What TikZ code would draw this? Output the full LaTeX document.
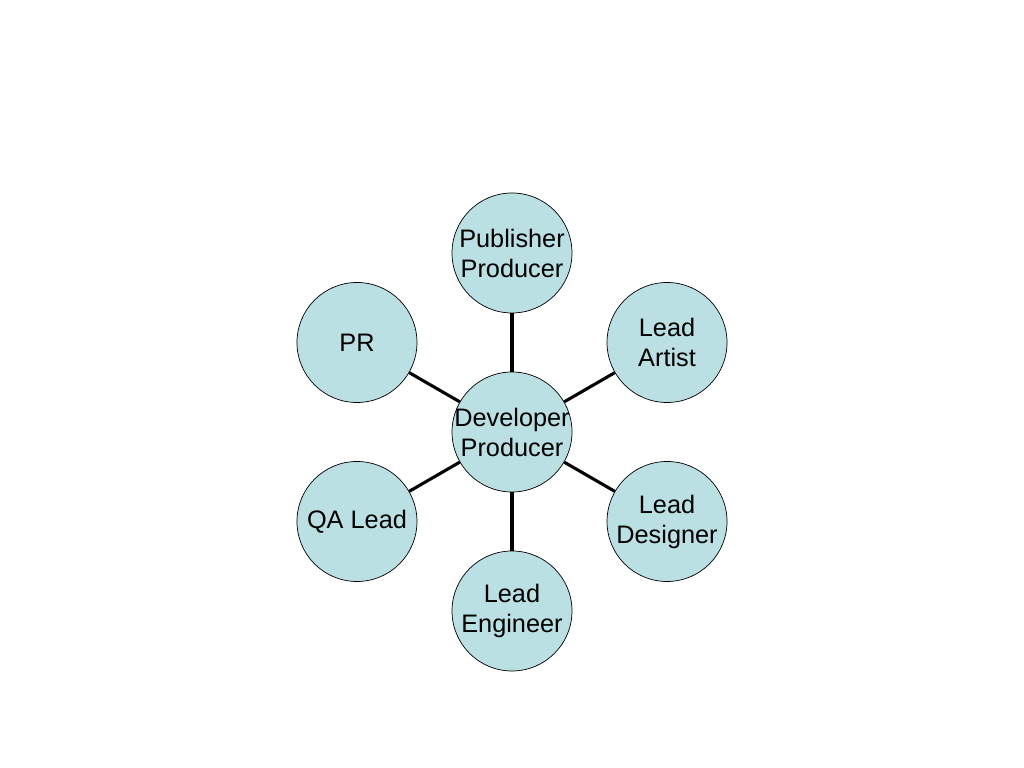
\documentclass[tikz,border=0pt]{standalone}
\usepackage{fontspec}
\setmainfont{Liberation Sans}
\usetikzlibrary{calc}
\definecolor{rolefill}{HTML}{BBE0E3}
\tikzset{
  role/.style={draw, fill=rolefill, circle, line width=0.5pt, minimum size=3cm, inner sep=0pt, align=center, font=\fontsize{18}{21.3}\selectfont},
  link/.style={line width=2.2pt}
}
\begin{document}
\begin{tikzpicture}
    \useasboundingbox (0,0) rectangle (25.6,19.2);
    \node[role] (dev) at (12.8,8.4) {\makebox[2.4cm]{Developer}\\\makebox[2.4cm]{Producer}};

    \foreach \i/\txt in {1/{Publisher\\Producer}, 2/{Lead\\Artist}, 3/{Lead\\Designer}, 4/{Lead\\Engineer}, 5/{QA Lead}, 6/{PR}} {
      \node[role] (r\i) at ($(dev)+({90-60*(\i-1)}:4.475)$) {\txt};
    }

    \foreach \i in {1,...,6} {
      \draw[link] (dev) -- (r\i);
    }

  \end{tikzpicture}
\end{document}
